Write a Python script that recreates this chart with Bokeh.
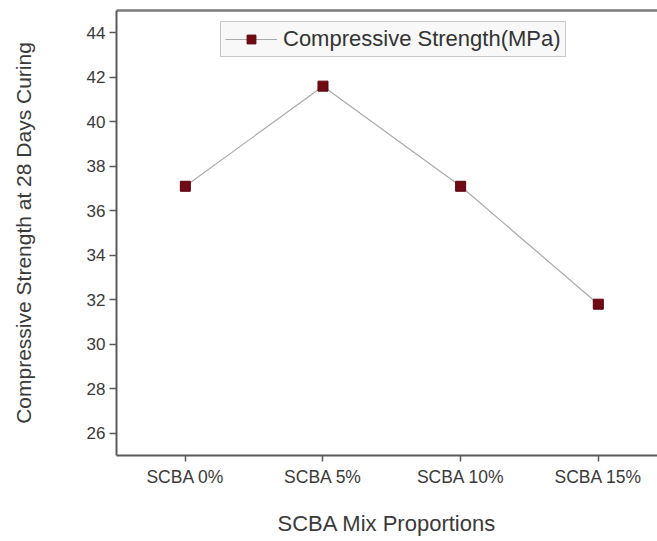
from bokeh.plotting import figure
from bokeh.models import Range1d, FixedTicker, Legend, LegendItem, ColumnDataSource, LinearAxis
from bokeh.embed import file_html
from bokeh.resources import INLINE

categories = ["SCBA 0%", "SCBA 5%", "SCBA 10%", "SCBA 15%"]
strength = [37.1, 41.6, 37.1, 31.8]
y_ticks = [26, 28, 30, 32, 34, 36, 38, 40, 42, 44]

xs = list(range(len(categories)))
src = ColumnDataSource(dict(x=xs, y=strength))

FONT = "Liberation Sans"
AX = "#5a5a5a"
TXT = "#3a3a3a"

p = figure(width=657, height=541, output_backend="svg", toolbar_location=None,
           x_range=Range1d(-0.5, 3.43), y_range=Range1d(25, 45),
           min_border_left=116, min_border_right=0, min_border_top=10, min_border_bottom=86)

ln = p.line("x", "y", source=src, line_color="#aaaaaa", line_width=1.2)
sq = p.scatter("x", "y", source=src, marker="square", size=10,
               fill_color="#700a14", line_color="#5a0010", line_width=1)

p.xgrid.visible = False
p.ygrid.visible = False
p.outline_line_color = None
p.background_fill_color = "white"
p.border_fill_color = "white"

xa = p.below[0]
ya = p.left[0]

top = LinearAxis(ticker=FixedTicker(ticks=[]), axis_line_color="#7a7a7a", axis_line_width=2.5,
                 major_tick_line_color=None, minor_tick_line_color=None,
                 major_label_text_font_size="0px", major_tick_out=0, major_tick_in=0,
                 major_label_standoff=0)
p.add_layout(top, "above")

xa.ticker = FixedTicker(ticks=xs)
xa.major_label_overrides = {i: c for i, c in enumerate(categories)}
xa.axis_label = "SCBA Mix Proportions"
xa.axis_label_text_font = FONT
xa.axis_label_text_font_size = "22px"
xa.axis_label_text_font_style = "normal"
xa.axis_label_text_color = TXT
xa.axis_label_standoff = 21
xa.major_label_text_font = FONT
xa.major_label_text_font_size = "17.5px"
xa.major_label_text_color = TXT
xa.major_label_standoff = 5
xa.axis_line_color = AX
xa.axis_line_width = 2
xa.major_tick_line_color = AX
xa.major_tick_line_width = 1.5
xa.major_tick_out = 6
xa.major_tick_in = 0
xa.minor_tick_line_color = None

ya.ticker = FixedTicker(ticks=y_ticks)
ya.axis_label = "Compressive Strength at 28 Days Curing"
ya.axis_label_text_font = FONT
ya.axis_label_text_font_size = "21px"
ya.axis_label_text_font_style = "normal"
ya.axis_label_text_color = TXT
ya.axis_label_standoff = 49
ya.major_label_text_font = FONT
ya.major_label_text_font_size = "17px"
ya.major_label_text_color = TXT
ya.major_label_standoff = 4
ya.axis_line_color = AX
ya.axis_line_width = 2
ya.major_tick_line_color = AX
ya.major_tick_line_width = 1.5
ya.major_tick_out = 7
ya.major_tick_in = 0
ya.minor_tick_line_color = None

legend = Legend(items=[LegendItem(label="Compressive Strength(MPa)", renderers=[ln, sq])],
                location=(104, 398), orientation="vertical")
legend.label_text_font = FONT
legend.label_text_font_size = "22px"
legend.label_text_color = "#333333"
legend.glyph_width = 52
legend.glyph_height = 22
legend.padding = 4
legend.margin = 0
legend.spacing = 0
legend.label_standoff = 6
legend.border_line_color = "#9a9a9a"
legend.border_line_width = 1.5
legend.background_fill_color = "#f8f8f8"
legend.background_fill_alpha = 1
p.add_layout(legend, "center")

open("out.html", "w").write(file_html(p, INLINE))
